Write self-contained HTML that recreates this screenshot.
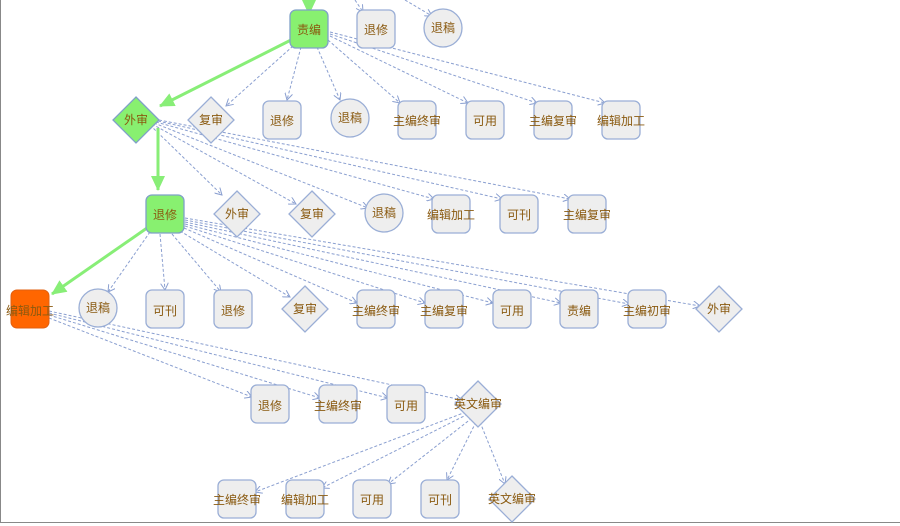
<!DOCTYPE html>
<html><head><meta charset="utf-8"><style>
html,body{margin:0;padding:0;background:#fff;}
svg{display:block;}
text{font-family:"Liberation Sans","Noto Sans CJK SC",sans-serif;font-size:12px;fill:#8a5a10;text-anchor:middle;dominant-baseline:central;}
.n{fill:#eeeeee;stroke:#9aaed6;stroke-width:1.3;}
.e{stroke:#8a9fd0;stroke-width:1;stroke-dasharray:3,2;fill:none;marker-end:url(#a);}
.g{stroke:#88ee77;stroke-width:3;fill:none;marker-end:url(#ga);}
</style></head><body>
<svg width="900" height="526" viewBox="0 0 900 526" xmlns="http://www.w3.org/2000/svg">
<defs>
<marker id="a" markerWidth="8" markerHeight="8" refX="7" refY="4" orient="auto" markerUnits="userSpaceOnUse"><path d="M0,0 L7,4 L0,8" fill="none" stroke="#8a9fd0" stroke-width="1"/></marker>
<marker id="ga" markerWidth="16" markerHeight="14" refX="14" refY="7" orient="auto" markerUnits="userSpaceOnUse"><path d="M0,0 L15,7 L0,14 Z" fill="#88ee77"/></marker>
</defs>
<line x1="0.5" y1="0" x2="0.5" y2="522" stroke="#888" stroke-width="1"/>
<line x1="0" y1="522.5" x2="900" y2="522.5" stroke="#888" stroke-width="1"/>

<!-- top incoming dashed -->
<path class="e" d="M355,0 L363,12"/>
<path class="e" d="M405,0 L432,16"/>

<!-- from 责编 -->
<path class="e" d="M293,46 L226,106"/>
<path class="e" d="M301,47 L287,100"/>
<path class="e" d="M317,47 L340,100"/>
<path class="e" d="M328,40 L400,103"/>
<path class="e" d="M330,36 L468,103"/>
<path class="e" d="M330,34 L537,103"/>
<path class="e" d="M330,32 L605,103"/>

<!-- from 外审 -->
<path class="e" d="M150,125 L222,195"/>
<path class="e" d="M152,124 L296,204"/>
<path class="e" d="M154,123 L368,208"/>
<path class="e" d="M156,122 L434,199"/>
<path class="e" d="M158,121 L502,199"/>
<path class="e" d="M159,120 L570,199"/>

<!-- from 退修 green -->
<path class="e" d="M150,232 L108,292"/>
<path class="e" d="M160,234 L165,290"/>
<path class="e" d="M172,234 L221,292"/>
<path class="e" d="M180,231 L290,297"/>
<path class="e" d="M184,228 L357,303"/>
<path class="e" d="M185,226 L425,303"/>
<path class="e" d="M185,224 L493,303"/>
<path class="e" d="M185,222 L561,303"/>
<path class="e" d="M185,220 L629,304"/>
<path class="e" d="M185,218 L700,306"/>

<!-- from 编辑加工 -->
<path class="e" d="M49,318 L252,397"/>
<path class="e" d="M49,315 L320,398"/>
<path class="e" d="M49,313 L388,398"/>
<path class="e" d="M49,311 L462,400"/>

<!-- from 英文编审 -->
<path class="e" d="M466,412 L255,492"/>
<path class="e" d="M468,414 L322,488"/>
<path class="e" d="M472,418 L388,484"/>
<path class="e" d="M476,422 L447,480"/>
<path class="e" d="M480,422 L505,484"/>

<!-- green path -->
<path class="g" d="M309,0 L309,14"/>
<path class="g" d="M291,40 L160,106"/>
<path class="g" d="M158,128 L158,190"/>
<path class="g" d="M147,228 L52,294"/>

<!-- Row 0 -->
<rect x="290" y="10" width="38" height="38" rx="6" fill="#88f070" stroke="#7fa0c8" stroke-width="1.3"/><text x="309" y="30">责编</text>
<rect class="n" x="357" y="10" width="38" height="38" rx="6"/><text x="376" y="30">退修</text>
<circle class="n" cx="443" cy="28" r="19"/><text x="443" y="28">退稿</text>

<!-- Row 1 -->
<polygon points="136,97 159,120 136,143 113,120" fill="#88f070" stroke="#7fa0c8" stroke-width="1.3"/><text x="136" y="120">外审</text>
<polygon class="n" points="211,97 234,120 211,143 188,120"/><text x="211" y="120">复审</text>
<rect class="n" x="263" y="101" width="38" height="38" rx="6"/><text x="282" y="121">退修</text>
<circle class="n" cx="350" cy="118" r="19"/><text x="350" y="118">退稿</text>
<rect class="n" x="398" y="101" width="38" height="38" rx="6"/><text x="417" y="121">主编终审</text>
<rect class="n" x="466" y="101" width="38" height="38" rx="6"/><text x="485" y="121">可用</text>
<rect class="n" x="534" y="101" width="38" height="38" rx="6"/><text x="553" y="121">主编复审</text>
<rect class="n" x="602" y="101" width="38" height="38" rx="6"/><text x="621" y="121">编辑加工</text>

<!-- Row 2 -->
<rect x="146" y="195" width="38" height="38" rx="6" fill="#88f070" stroke="#7fa0c8" stroke-width="1.3"/><text x="165" y="215">退修</text>
<polygon class="n" points="237,191 260,214 237,237 214,214"/><text x="237" y="214">外审</text>
<polygon class="n" points="312,191 335,214 312,237 289,214"/><text x="312" y="214">复审</text>
<circle class="n" cx="384" cy="213" r="19"/><text x="384" y="213">退稿</text>
<rect class="n" x="432" y="195" width="38" height="38" rx="6"/><text x="451" y="215">编辑加工</text>
<rect class="n" x="500" y="195" width="38" height="38" rx="6"/><text x="519" y="215">可刊</text>
<rect class="n" x="568" y="195" width="38" height="38" rx="6"/><text x="587" y="215">主编复审</text>

<!-- Row 3 -->
<rect x="11" y="290" width="38" height="38" rx="6" fill="#ff6600" stroke="#e06010" stroke-width="1"/><text x="30" y="311">编辑加工</text>
<circle class="n" cx="98" cy="308" r="19"/><text x="98" y="308">退稿</text>
<rect class="n" x="146" y="290" width="38" height="38" rx="6"/><text x="165" y="311">可刊</text>
<rect class="n" x="214" y="290" width="38" height="38" rx="6"/><text x="233" y="311">退修</text>
<polygon class="n" points="305,286 328,309 305,332 282,309"/><text x="305" y="309">复审</text>
<rect class="n" x="357" y="290" width="38" height="38" rx="6"/><text x="376" y="311">主编终审</text>
<rect class="n" x="425" y="290" width="38" height="38" rx="6"/><text x="444" y="311">主编复审</text>
<rect class="n" x="493" y="290" width="38" height="38" rx="6"/><text x="512" y="311">可用</text>
<rect class="n" x="560" y="290" width="38" height="38" rx="6"/><text x="579" y="311">责编</text>
<rect class="n" x="628" y="290" width="38" height="38" rx="6"/><text x="647" y="311">主编初审</text>
<polygon class="n" points="719,286 742,309 719,332 696,309"/><text x="719" y="309">外审</text>

<!-- Row 4 -->
<rect class="n" x="251" y="385" width="38" height="38" rx="6"/><text x="270" y="406">退修</text>
<rect class="n" x="319" y="385" width="38" height="38" rx="6"/><text x="338" y="406">主编终审</text>
<rect class="n" x="387" y="385" width="38" height="38" rx="6"/><text x="406" y="406">可用</text>
<polygon class="n" points="478,381 501,404 478,427 455,404"/><text x="478" y="404">英文编审</text>

<!-- Row 5 -->
<rect class="n" x="218" y="480" width="38" height="38" rx="6"/><text x="237" y="500">主编终审</text>
<rect class="n" x="286" y="480" width="38" height="38" rx="6"/><text x="305" y="500">编辑加工</text>
<rect class="n" x="353" y="480" width="38" height="38" rx="6"/><text x="372" y="500">可用</text>
<rect class="n" x="421" y="480" width="38" height="38" rx="6"/><text x="440" y="500">可刊</text>
<polygon class="n" points="512,476 535,499 512,522 489,499"/><text x="512" y="499">英文编审</text>
</svg>
</body></html>
